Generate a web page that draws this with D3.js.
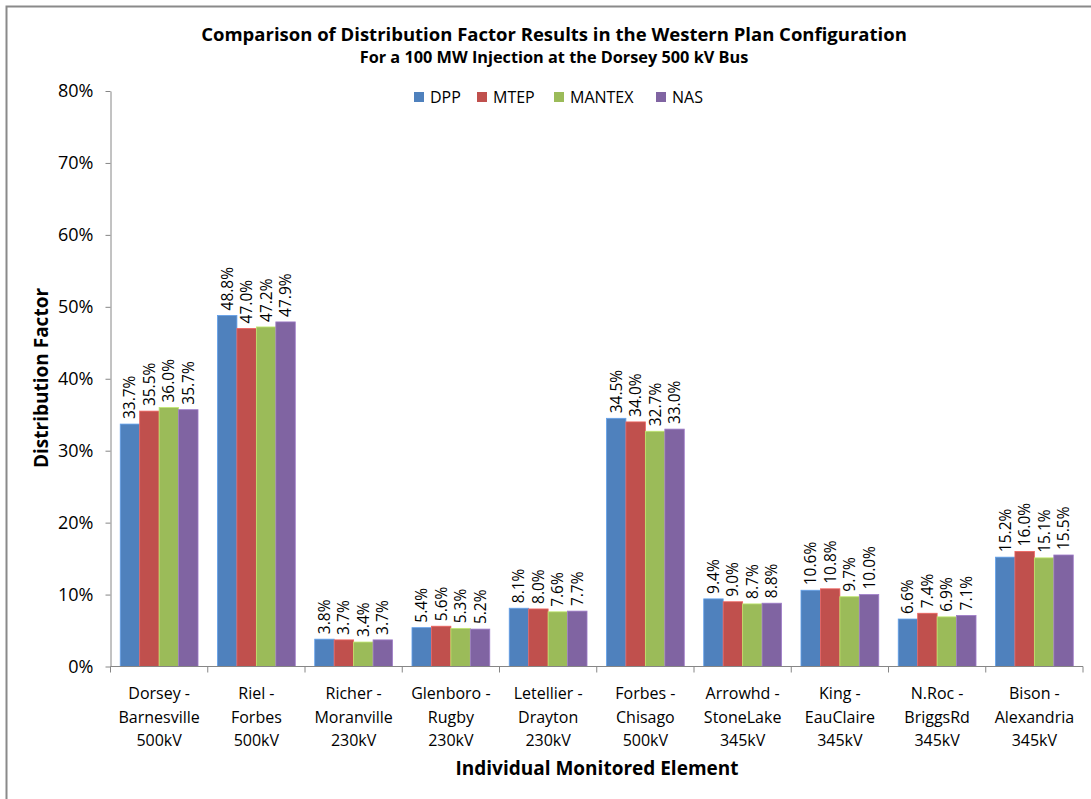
<!DOCTYPE html>
<html>
<head>
<meta charset="utf-8">
<script src="https://cdn.jsdelivr.net/npm/d3@7"></script>
<style>
  html, body { margin: 0; padding: 0; background: #fff; }
  svg { display: block; font-family: "Open Sans", sans-serif; }
</style>
</head>
<body>
<svg id="chart" width="1091" height="799"></svg>
<script>
const categories = [
  ["Dorsey -", "Barnesville", "500kV"],
  ["Riel -", "Forbes", "500kV"],
  ["Richer -", "Moranville", "230kV"],
  ["Glenboro -", "Rugby", "230kV"],
  ["Letellier -", "Drayton", "230kV"],
  ["Forbes -", "Chisago", "500kV"],
  ["Arrowhd -", "StoneLake", "345kV"],
  ["King -", "EauClaire", "345kV"],
  ["N.Roc -", "BriggsRd", "345kV"],
  ["Bison -", "Alexandria", "345kV"]
];
const seriesNames = ["DPP", "MTEP", "MANTEX", "NAS"];
const DPP    = [33.7, 48.8, 3.8, 5.4, 8.1, 34.5, 9.4, 10.6, 6.6, 15.2];
const MTEP   = [35.5, 47.0, 3.7, 5.6, 8.0, 34.0, 9.0, 10.8, 7.4, 16.0];
const MANTEX = [36.0, 47.2, 3.4, 5.3, 7.6, 32.7, 8.7, 9.7, 6.9, 15.1];
const NAS    = [35.7, 47.9, 3.7, 5.2, 7.7, 33.0, 8.8, 10.0, 7.1, 15.5];
const yTicks = [0, 10, 20, 30, 40, 50, 60, 70, 80];
const colors = ["#4F81BD", "#C0504D", "#9BBB59", "#8064A2"];

(function () {
const seriesValues = [DPP, MTEP, MANTEX, NAS];
const svg = d3.select("#chart");
const FONT = "'Open Sans', sans-serif";

// outer frame
svg.append("path").attr("d", "M6.5,1000 V6.5 H1100")
  .attr("fill", "none").attr("stroke", "#8a8a8a").attr("stroke-width", 2);

const pLeft = 110.5, pRight = 1083, pTop = 91, pBottom = 666.5;
const x0 = d3.scaleBand().domain(d3.range(categories.length)).range([pLeft, pRight]).paddingInner(0.2).paddingOuter(0.1);
const step = (pRight - pLeft) / categories.length;
const x1 = d3.scaleBand().domain(d3.range(seriesNames.length)).range([0, x0.bandwidth()]);
const y = d3.scaleLinear().domain([0, 80]).range([pBottom, pTop]);

// bars
const groups = svg.append("g").selectAll("g").data(categories).join("g")
  .attr("transform", (d, i) => `translate(${x0(i)},0)`);
groups.each(function (d, i) {
  const g = d3.select(this);
  seriesValues.forEach((vals, s) => {
    g.append("rect")
      .attr("x", x1(s)).attr("width", x1.bandwidth())
      .attr("y", y(vals[i])).attr("height", y(0) - y(vals[i]))
      .attr("fill", colors[s])
      .attr("stroke", d3.color(colors[s]).brighter(0.6)).attr("stroke-width", 0.8);
    g.append("text")
      .attr("transform", `translate(${x1(s) + x1.bandwidth() / 2 + 5.5},${y(vals[i]) - 5}) rotate(-90)`)
      .attr("font-size", 15.5).attr("fill", "#000")
      .text(vals[i].toFixed(1) + "%");
  });
});

// y axis
const yAxis = d3.axisLeft(y).tickValues(yTicks).tickFormat(d => d + "%").tickSize(5).tickSizeOuter(0);
const ya = svg.append("g").attr("transform", `translate(${pLeft},0)`).call(yAxis);
ya.select(".domain").attr("stroke", "#868686");
ya.selectAll(".tick line").attr("stroke", "#868686");
ya.selectAll(".tick text").attr("font-size", 18).attr("font-family", FONT)
  .attr("fill", "#000").attr("x", -17);

// x axis
svg.append("line").attr("x1", pLeft).attr("x2", pRight).attr("y1", pBottom).attr("y2", pBottom)
  .attr("stroke", "#868686");
const tickXs = d3.range(categories.length + 1).map(i => pLeft + i * step);
svg.append("g").selectAll("line").data(tickXs).join("line")
  .attr("x1", d => d).attr("x2", d => d).attr("y1", pBottom).attr("y2", pBottom + 6)
  .attr("stroke", "#868686");

// category labels
const catG = svg.append("g");
categories.forEach((lines, i) => {
  const cx = pLeft + (i + 0.5) * step;
  const t = catG.append("text").attr("text-anchor", "middle").attr("font-size", 16).attr("fill", "#000");
  lines.forEach((ln, k) => {
    t.append("tspan").attr("x", cx).attr("y", 699 + k * 23.5).text(ln);
  });
});

// titles
svg.append("text").attr("x", 554).attr("y", 41).attr("text-anchor", "middle")
  .attr("font-size", 18.5).attr("font-weight", "bold")
  .text("Comparison of Distribution Factor Results in the Western Plan Configuration");
svg.append("text").attr("x", 554).attr("y", 63).attr("text-anchor", "middle")
  .attr("font-size", 16.3).attr("font-weight", "bold")
  .text("For a 100 MW Injection at the Dorsey 500 kV Bus");
svg.append("text").attr("transform", "translate(48,378) rotate(-90)").attr("text-anchor", "middle")
  .attr("font-size", 19).attr("font-weight", "bold").text("Distribution Factor");
svg.append("text").attr("x", 597).attr("y", 775).attr("text-anchor", "middle")
  .attr("font-size", 19).attr("font-weight", "bold").text("Individual Monitored Element");

// legend
const legendX = [414, 477, 554, 656];
const lg = svg.append("g");
seriesNames.forEach((n, s) => {
  lg.append("rect").attr("x", legendX[s]).attr("y", 92).attr("width", 10).attr("height", 10).attr("fill", colors[s]);
  lg.append("text").attr("x", legendX[s] + 16).attr("y", 103).attr("font-size", 16).text(n);
});
})();
</script>
</body>
</html>
